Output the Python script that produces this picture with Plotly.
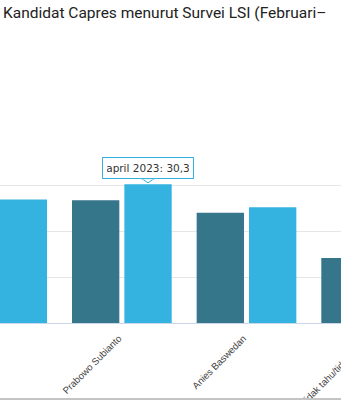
import plotly.graph_objects as go

categories = ["Ganjar Pranowo", "Prabowo Subianto", "Anies Baswedan", "Tidak tahu/tidak jawab"]
feb_2023 = [32.0, 26.8, 24.1, 14.2]
apr_2023 = [27.0, 30.3, 25.3, 14.0]
series_names = ["februari 2023", "april 2023"]
title_text = "Kandidat Capres menurut Survei LSI (Februari–"
tooltip_text = "april 2023: 30,3"

DARK = "#36768a"
LIGHT = "#34b2e0"
BARGAP = 0.16
BARGROUPGAP = 0.096

W, H = 440, 400
PX_PER_CAT = 124.65
X0 = 0.0225
X1 = X0 + W / PX_PER_CAT

fig = go.Figure()
fig.add_bar(x=categories, y=feb_2023, name=series_names[0], marker_color=DARK,
            marker_line_width=0)
fig.add_bar(x=categories, y=apr_2023, name=series_names[1], marker_color=LIGHT,
            marker_line_width=0)

# tooltip on Prabowo april bar
idx = categories.index("Prabowo Subianto")
xpos = idx + (1 - BARGAP) / 4
fig.add_annotation(x=xpos, y=apr_2023[idx], xref="x", yref="y",
                   text=tooltip_text, showarrow=False,
                   xanchor="center", yanchor="bottom", yshift=5,
                   font=dict(family="DejaVu Sans", size=10.5, color="#333333"),
                   bgcolor="white", bordercolor=LIGHT, borderwidth=1,
                   borderpad=4, width=82, height=12)
fig.add_shape(type="path", xref="x", yref="y", xsizemode="pixel", ysizemode="pixel",
              xanchor=xpos, yanchor=apr_2023[idx],
              path="M -6,5.5 L 0,1.5 L 6,5.5 Z",
              fillcolor="white", line=dict(color=LIGHT, width=1), layer="above")
fig.add_shape(type="line", xref="x", yref="y", xsizemode="pixel", ysizemode="pixel",
              xanchor=xpos, yanchor=apr_2023[idx],
              x0=-5, x1=5, y0=5.5, y1=5.5,
              line=dict(color="white", width=1.5), layer="above")

# scrollbar-like line at bottom
fig.add_shape(type="rect", xref="paper", yref="paper",
              x0=0, x1=1, y0=-77/184, y1=-75/184,
              fillcolor="#c4c4c4", line_width=0, layer="above")

fig.update_layout(
    width=W, height=H,
    margin=dict(l=0, r=0, t=139, b=77, pad=0),
    paper_bgcolor="white", plot_bgcolor="white",
    barmode="group", bargap=BARGAP, bargroupgap=BARGROUPGAP,
    showlegend=False,
    title=dict(text=title_text, x=3 / W, xanchor="left", xref="container",
               y=1 - 13 / H, yanchor="middle", yref="container",
               font=dict(family="Roboto", size=15.5, color="#222222")),
    xaxis=dict(range=[X0, X1], tickangle=-45, showgrid=False,
               showline=True, linecolor="#ccd6eb", linewidth=1,
               ticks="", automargin=False, ticklabelshift=-3, ticklabelstandoff=5,
               tickfont=dict(family="Liberation Sans", size=9.6, color="#444444")),
    yaxis=dict(range=[0, 40.2], tickvals=[0, 10, 20, 30, 40], showgrid=True,
               gridcolor="#e6e6e6", gridwidth=1, zeroline=False,
               showticklabels=False, automargin=False),
)

fig.write_html("out.html",
               post_script="document.documentElement.style.overflow='hidden';document.body.style.overflow='hidden';")
